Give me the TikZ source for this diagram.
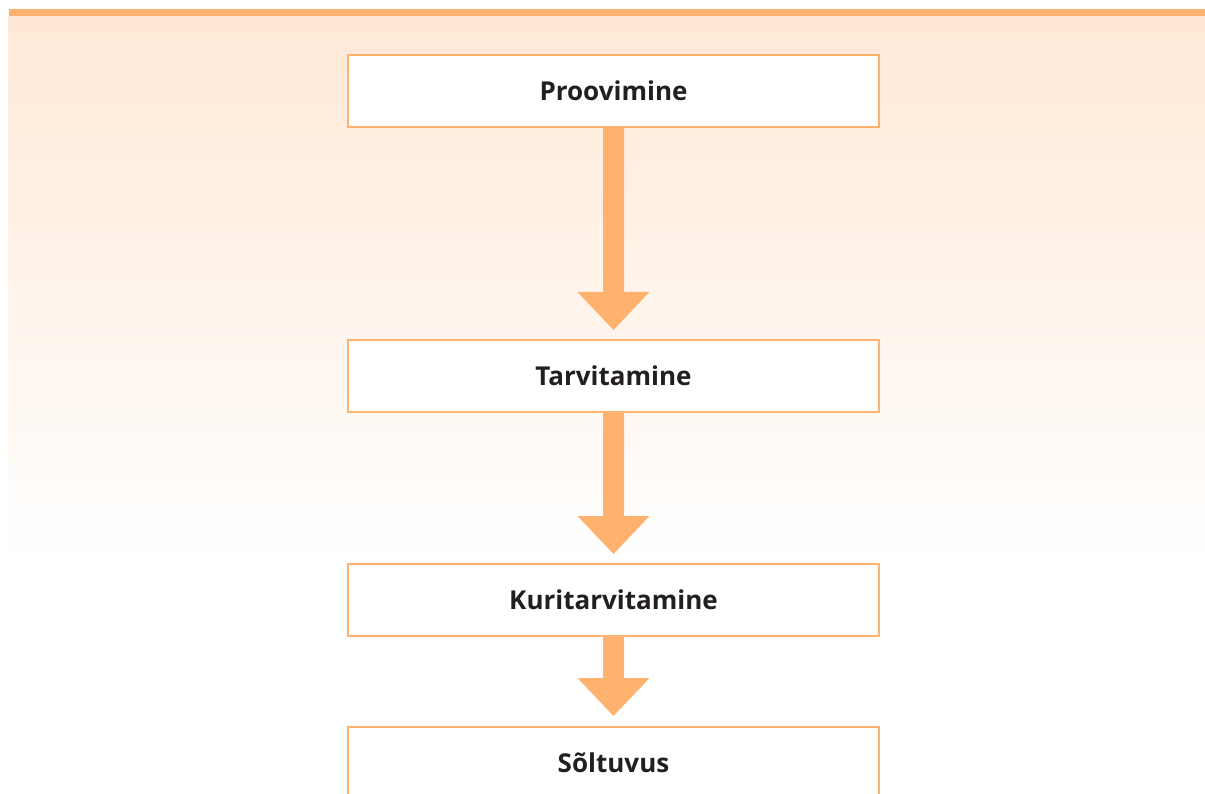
\documentclass[tikz,border=0pt]{standalone}
\usepackage{fontspec}
\setmainfont{Open Sans}
\usetikzlibrary{calc}
\definecolor{barorange}{HTML}{FFB26E}
\definecolor{peach}{HTML}{FFE8D6}
\definecolor{txt}{HTML}{231F20}
\tikzset{
  stagebox/.style={draw=barorange, line width=2pt, fill=white, minimum width=531pt, minimum height=72pt, inner sep=0pt},
  stagelabel/.style={text=txt, font=\fontsize{26}{30}\selectfont\bfseries, anchor=base, inner sep=0pt},
}
\newcommand\fatarrow[3]{% from, to, gap
  \fill[barorange] ($(#1)+(-10.5,0)$) -- ($(#2)+(-10.5,-38-#3)$) -- ($(#2)+(-36,-38-#3)$) -- ($(#2)+(0,-#3)$) -- ($(#2)+(36,-38-#3)$) -- ($(#2)+(10.5,-38-#3)$) -- ($(#1)+(10.5,0)$) -- cycle;}
\begin{document}
\begin{tikzpicture}[x=1pt,y=-1pt]
\useasboundingbox (0,0) rectangle (1205,794);
\fill[white] (0,0) rectangle (1205,794);
\shade[top color=peach, bottom color=white] (8,17) rectangle (1205,560);
\fill[barorange] (9,9.5) rectangle (1205,16.5);
\begin{scope}
\clip (0,0) rectangle (1205,794);
\node[stagebox] (b1) at (613.5,91) {};
\node[stagebox] (b2) at (613.5,376) {};
\node[stagebox] (b3) at (613.5,600) {};
\node[stagebox] (b4) at (613.5,763) {};
\end{scope}
\node[stagelabel] (t1) at (613.5,100.5) {Proovimine};
\node[stagelabel] (t2) at (613.5,385.5) {Tarvitamine};
\node[stagelabel] (t3) at (613.5,609.5) {Kuritarvitamine};
\node[stagelabel] (t4) at (613.5,772.5) {Sõltuvus};
\fatarrow{b1.south}{b2.north}{9}
\fatarrow{b2.south}{b3.north}{9}
\fatarrow{b3.south}{b4.north}{10}
\end{tikzpicture}
\end{document}
